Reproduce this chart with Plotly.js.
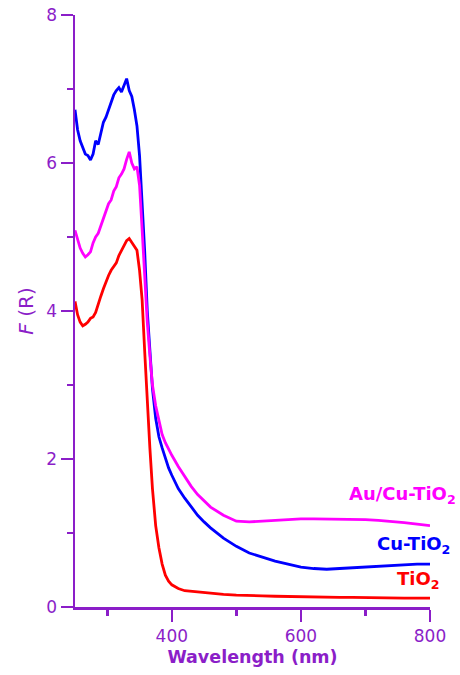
<!DOCTYPE html>
<html>
<head>
<meta charset="utf-8">
<script src="https://cdn.plot.ly/plotly-3.0.1.min.js"></script>
<style>html,body{margin:0;padding:0;background:#fff;}#chart{width:460px;height:675px;}</style>
</head>
<body>
<div id="chart"></div>
<script>
const wavelength = [250,254,258,262,266,270,274,278,282,286,290,294,298,302,306,310,314,318,322,326,330,334,338,342,346,350,354,358,362,366,370,375,380,385,390,395,400,410,420,430,440,450,460,480,500,520,540,560,580,600,620,640,660,680,700,720,740,760,780,800];

const cuTiO2 = [6.72,6.45,6.30,6.20,6.12,6.10,6.04,6.12,6.30,6.25,6.42,6.55,6.62,6.72,6.80,6.92,6.98,7.02,6.96,7.05,7.14,6.98,6.90,6.72,6.50,6.10,5.50,4.80,4.00,3.40,2.95,2.55,2.30,2.15,2.00,1.88,1.78,1.60,1.47,1.35,1.24,1.15,1.07,0.93,0.82,0.73,0.67,0.62,0.58,0.54,0.52,0.51,0.52,0.53,0.55,0.56,0.57,0.58,0.58,0.58];

const auCuTiO2 = [5.09,4.95,4.85,4.78,4.73,4.76,4.80,4.92,5.00,5.05,5.15,5.25,5.35,5.45,5.50,5.62,5.68,5.80,5.85,5.92,6.05,6.15,6.00,5.92,5.95,5.70,5.10,4.45,3.85,3.40,3.00,2.72,2.50,2.33,2.22,2.13,2.05,1.90,1.76,1.63,1.52,1.43,1.35,1.24,1.16,1.15,1.16,1.18,1.19,1.19,1.19,1.19,1.19,1.19,1.18,1.17,1.16,1.14,1.12,1.10];

const tiO2 = [4.13,3.95,3.85,3.80,3.82,3.85,3.90,3.92,3.98,4.10,4.20,4.30,4.40,4.48,4.55,4.60,4.65,4.75,4.82,4.90,4.95,4.98,4.92,4.88,4.82,4.55,4.15,3.45,2.70,2.15,1.60,1.10,0.80,0.58,0.43,0.35,0.30,0.25,0.22,0.21,0.20,0.19,0.18,0.17,0.16,0.15,0.15,0.145,0.14,0.14,0.135,0.13,0.13,0.13,0.125,0.12,0.12,0.12,0.12,0.12];

const seriesNames = ["Au/Cu-TiO<sub>2</sub>", "Cu-TiO<sub>2</sub>", "TiO<sub>2</sub>"];
const labelX = [1.079, 1.062, 1.034];
const labelY = [1.51, 0.84, 0.36];

const purple = "#8B1EC8";
const font = "'DejaVu Sans', Verdana, sans-serif";

const traces = [
  {x: wavelength, y: cuTiO2, mode: "lines", line: {color: "#0000FF", width: 2.8}},
  {x: wavelength, y: auCuTiO2, mode: "lines", line: {color: "#FF00FF", width: 2.8}},
  {x: wavelength, y: tiO2, mode: "lines", line: {color: "#FF0000", width: 2.8}}
];

const colors = ["#FF00FF", "#0000FF", "#FF0000"];
const annotations = seriesNames.map((t, i) => ({
  x: labelX[i], y: labelY[i], xref: "paper", yref: "y", text: "<b>" + t + "</b>",
  showarrow: false, xanchor: "right", yanchor: "middle",
  font: {family: font, size: 18, color: colors[i]}
}));

const axisCommon = {
  showline: true, linecolor: purple, linewidth: 2.5,
  ticks: "outside", ticklen: 12, tickwidth: 2.5, tickcolor: purple,
  showgrid: false, zeroline: false, mirror: false,
  tickfont: {family: font, size: 17, color: purple}
};

const layout = {
  width: 460, height: 675,
  margin: {l: 75, r: 30, t: 15, b: 68},
  paper_bgcolor: "#fff", plot_bgcolor: "#fff",
  showlegend: false,
  xaxis: Object.assign({}, axisCommon, {
    range: [250, 800], tick0: 0, dtick: 200,
    minor: {ticks: "outside", ticklen: 6, tickwidth: 2.5, tickcolor: purple, dtick: 100, tick0: 0, showgrid: false},
    title: {text: "<b>Wavelength (nm)</b>", font: {family: font, size: 17.5, color: purple}, standoff: 6}
  }),
  yaxis: Object.assign({}, axisCommon, {
    range: [0, 8], tick0: 0, dtick: 2,
    minor: {ticks: "outside", ticklen: 6, tickwidth: 2.5, tickcolor: purple, dtick: 1, tick0: 0, showgrid: false},
    title: {text: "<i>F</i> (R)", font: {family: font, size: 20, color: purple}, standoff: 8}
  }),
  annotations: annotations
};

Plotly.newPlot("chart", traces, layout, {staticPlot: true, displayModeBar: false});
</script>
</body>
</html>
